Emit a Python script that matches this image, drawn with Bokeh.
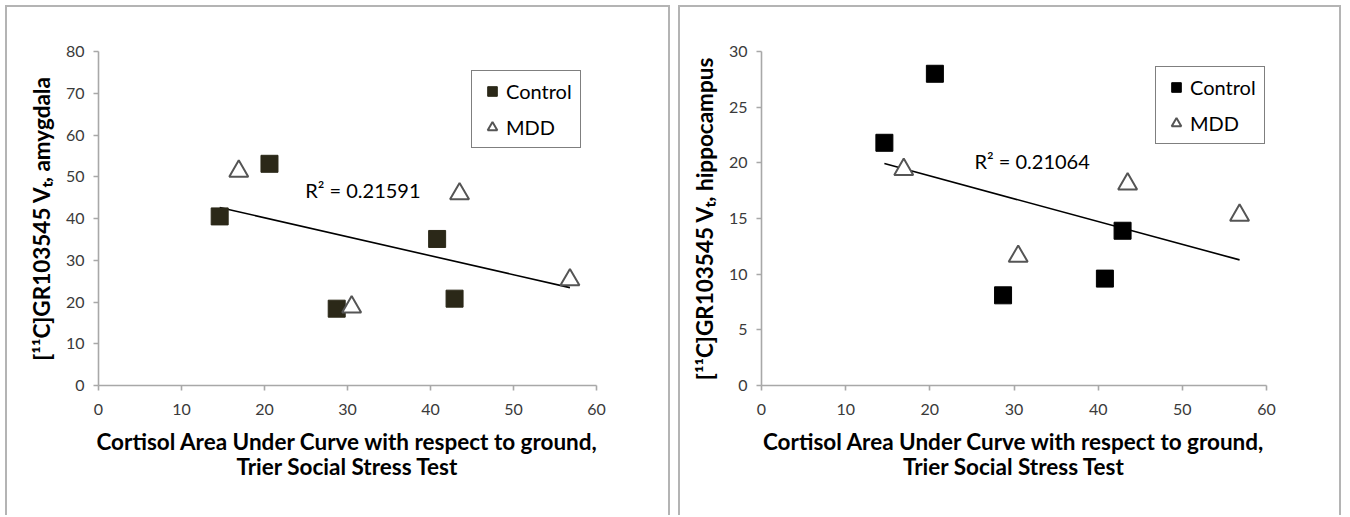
import numpy as np
from bokeh.plotting import figure
from bokeh.layouts import row
from bokeh.models import Range1d, Legend, LegendItem, Label, FixedTicker
from bokeh.embed import file_html
from bokeh.resources import INLINE

# ---- data ----
cortisol_control = [14.6, 20.6, 28.7, 40.8, 42.9]
cortisol_mdd = [16.9, 30.5, 43.5, 56.8]

amygdala_control = [40.5, 53.1, 18.4, 35.1, 20.8]
amygdala_mdd = [51.3, 18.8, 45.9, 25.3]

hippocampus_control = [21.8, 28.0, 8.1, 9.6, 13.9]
hippocampus_mdd = [19.4, 11.6, 18.1, 15.3]

x_ticks = [0, 10, 20, 30, 40, 50, 60]
amygdala_ticks = [0, 10, 20, 30, 40, 50, 60, 70, 80]
hippocampus_ticks = [0, 5, 10, 15, 20, 25, 30]

series_names = ["Control", "MDD"]
r2_labels = ["R² = 0.21591", "R² = 0.21064"]
x_label = "Cortisol Area Under Curve with respect to ground,\nTrier Social Stress Test"
y_labels = ["[¹¹C]GR103545 Vₜ, amygdala", "[¹¹C]GR103545 Vₜ, hippocampus"]

FONT = "Lato"
AXIS_GRAY = "#a8a8a8"
PANEL_GRAY = "#b4b4b4"


def make_panel(yc, ym, yticks, ylabel, r2text, r2pos, ctrl_color, legend_loc,
               width, border_left, border_right, border_top, margin, leg_pad):
    height = 510
    p = figure(width=width, height=height, output_backend="svg", toolbar_location=None,
               x_range=Range1d(x_ticks[0], x_ticks[-1]),
               y_range=Range1d(yticks[0], yticks[-1]),
               min_border_left=border_left, min_border_right=border_right,
               min_border_top=border_top, min_border_bottom=132)
    p.margin = margin
    p.grid.visible = False
    p.outline_line_color = None
    p.background_fill_color = "white"
    p.border_fill_color = "white"
    p.styles = {"border-top": f"2px solid {PANEL_GRAY}",
                "border-left": f"2px solid {PANEL_GRAY}",
                "border-right": f"2px solid {PANEL_GRAY}"}

    p.xaxis.ticker = FixedTicker(ticks=x_ticks)
    p.yaxis.ticker = FixedTicker(ticks=yticks)
    for ax in (p.xaxis[0], p.yaxis[0]):
        ax.axis_line_color = AXIS_GRAY
        ax.axis_line_width = 1.6
        ax.major_tick_line_color = AXIS_GRAY
        ax.major_tick_line_width = 1.6
        ax.major_tick_out = 5
        ax.major_tick_in = 0
        ax.minor_tick_line_color = None
        ax.major_label_text_font = FONT
        ax.major_label_text_font_size = "16px"
        ax.major_label_text_color = "#3a3a3a"
        ax.axis_label_text_font = FONT
        ax.axis_label_text_font_style = "bold"
        ax.axis_label_text_color = "black"
        ax.axis_label_text_font_size = "22.5px"
        ax.axis_label_text_line_height = 0.94
    p.xaxis.major_label_standoff = 13
    p.yaxis.major_label_standoff = 9
    p.xaxis.axis_label = x_label
    p.xaxis.axis_label_standoff = 10
    p.yaxis.axis_label = ylabel
    p.yaxis.axis_label_standoff = 8

    # trend line (least squares over all points)
    xs = np.array(cortisol_control + cortisol_mdd, dtype=float)
    ys = np.array(yc + ym, dtype=float)
    slope, intercept = np.polyfit(xs, ys, 1)
    fx = np.array([xs.min(), xs.max()])
    p.line(fx, slope * fx + intercept, line_color="black", line_width=1.6)

    rc = p.scatter(cortisol_control, yc, marker="square", size=17,
                   fill_color=ctrl_color, line_color=ctrl_color, line_width=1)
    rm = p.scatter(cortisol_mdd, ym, marker="triangle", size=19,
                   fill_color="white", line_color="#555555", line_width=2)

    p.add_layout(Label(x=r2pos[0], y=r2pos[1], text=r2text, text_font=FONT,
                       text_font_size="20px", text_color="black",
                       text_baseline="middle"))

    leg = Legend(items=[LegendItem(label=series_names[0], renderers=[rc]),
                        LegendItem(label=series_names[1], renderers=[rm])],
                 location=legend_loc)
    leg.label_text_font = FONT
    leg.label_text_font_size = "20px"
    leg.label_text_color = "black"
    leg.border_line_color = "black"
    leg.border_line_width = 1.5
    leg.background_fill_color = "white"
    leg.padding = leg_pad
    leg.spacing = 12
    leg.label_height = 24
    leg.glyph_width = 24
    leg.glyph_height = 24
    leg.label_standoff = 2
    leg.margin = 0
    p.add_layout(leg)
    return p


p1 = make_panel(amygdala_control, amygdala_mdd, amygdala_ticks, y_labels[0],
                r2_labels[0], (24.9, 46.9), "#2b2818", (373, 237),
                665, 91, 76, 44, (5, 0, 0, 5), 8)
p2 = make_panel(hippocampus_control, hippocampus_mdd, hippocampus_ticks, y_labels[1],
                r2_labels[1], (25.3, 20.2), "#000000", (394, 241),
                663, 81, 77, 36, (5, 0, 0, 3), 8)

layout = row(p1, p2, spacing=5)
open("out.html", "w").write(file_html(layout, INLINE))
